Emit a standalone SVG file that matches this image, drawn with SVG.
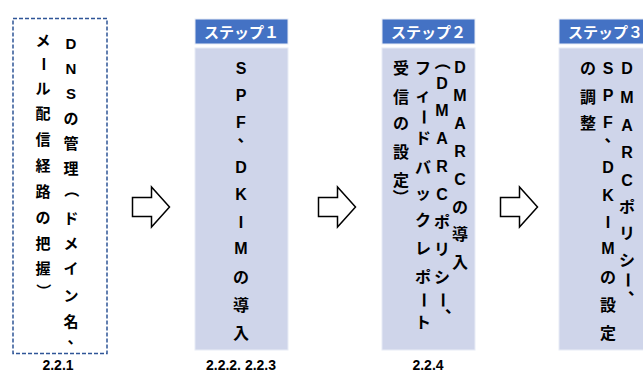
<svg xmlns="http://www.w3.org/2000/svg" width="643" height="372" viewBox="0 0 643 372">
  <style>
    .v { font-family: "Liberation Sans", "Noto Sans CJK JP", sans-serif; font-weight: bold; font-size: 16px; text-anchor: middle; dominant-baseline: central; fill: #000; }
    .s14 { font-size: 15px; }
    .head { fill: #4472C4; stroke: #E8ECF6; stroke-width: 1; }
    .body { fill: #CFD5EA; stroke: #E8ECF6; stroke-width: 1; }
    .htxt { font-family: "Noto Sans CJK JP", "Liberation Sans", sans-serif; font-weight: bold; font-size: 15px; text-anchor: middle; dominant-baseline: central; fill: #fff; }
    .lbl { font-family: "Liberation Sans", "Noto Sans CJK JP", sans-serif; font-weight: bold; font-size: 14px; text-anchor: middle; fill: #000; }
    .arrow { fill: #fff; stroke: #000; stroke-width: 1.5; stroke-linejoin: miter; }
  </style>
  <defs>
    <!-- outlined block arrow pointing right, origin at left end of the shaft centre line -->
    <path id="blockArrow" d="M0,-9.5 H19 V-20 L37,0 L19,20 V9.5 H0 Z"/>
  </defs>

  <!-- DNS management box (dashed) -->
  <g id="dns">
    <rect x="13" y="18.5" width="94" height="335" fill="#fff" stroke="#2F5597" stroke-width="1.5" stroke-dasharray="4 2"/>
    <text class="v s14" x="71 71 71 71 71 71" y="43 68 93 118 143 168">DNSの管理</text>
    <text class="v s14" transform="translate(71 190) rotate(90)">（</text>
    <text class="v s14" x="71 71 71 71 71" y="218 243 268 295 321">ドメイン名</text>
    <text class="v s14" x="75" y="337">、</text>
    <text class="v s14" x="43" y="40">メ</text>
    <text class="v s14" transform="translate(43 64) rotate(90)">ー</text>
    <text class="v s14" x="43 43 43 43 43 43 43 43" y="88 113 139 165 191 217 243 268">ル配信経路の把握</text>
    <text class="v s14" transform="translate(43 291) rotate(90)">）</text>
    <text class="lbl" x="58" y="370">2.2.1</text>
  </g>

  <!-- Step 1 -->
  <g id="step1">
    <rect class="head" x="195" y="19" width="93" height="25"/>
    <text class="htxt" x="241.5" y="31.5">ステップ１</text>
    <rect class="body" x="195" y="48" width="93" height="302"/>
    <text class="v" x="241 241 241" y="68 95 122">SPF</text>
    <text class="v" x="245.5" y="136">、</text>
    <text class="v" x="241 241 241 241 241 241 241" y="167 194 222 248 277 305 333">DKIMの導入</text>
    <text class="lbl" x="241" y="370">2.2.2. 2.2.3</text>
  </g>

  <!-- Step 2 -->
  <g id="step2">
    <rect class="head" x="382" y="19" width="93" height="25"/>
    <text class="htxt" x="428.5" y="31.5">ステップ２</text>
    <rect class="body" x="382" y="48" width="93" height="302"/>
    <text class="v" x="460 460 460 460 460 460 460 460" y="67 95 123 151 179 207 234 262">DMARCの導入</text>
    <text class="v" transform="translate(442 62) rotate(90)">（</text>
    <text class="v" x="442 442 442 442 442 442 442 442" y="83 110 138 166 194 222 249 277">DMARCポリシ</text>
    <text class="v" transform="translate(442 300) rotate(90)">ー</text>
    <text class="v" x="453" y="307">、</text>
    <text class="v" x="423 423" y="68 95">フィ</text>
    <text class="v" transform="translate(423 117) rotate(90)">ー</text>
    <text class="v" x="423 423 423 423 423 423" y="138 167 193 220 248 277">ドバックレポ</text>
    <text class="v" transform="translate(423 300) rotate(90)">ー</text>
    <text class="v" x="423" y="322">ト</text>
    <text class="v" x="401 401 401 401 401" y="68 97 123 152 180">受信の設定</text>
    <text class="v" transform="translate(400 197) rotate(90)">）</text>
    <text class="lbl" x="428" y="370">2.2.4</text>
  </g>

  <!-- Step 3 (runs past the right edge) -->
  <g id="step3">
    <rect class="head" x="559" y="19" width="93" height="25"/>
    <text class="htxt" x="605.5" y="31.5">ステップ３</text>
    <rect class="body" x="559" y="48" width="93" height="302"/>
    <text class="v" x="627 627 627 627 627 627 627 627" y="68 97 125 152 180 207 233 260">DMARCポリシ</text>
    <text class="v" transform="translate(627 280) rotate(90)">ー</text>
    <text class="v" x="636" y="289">、</text>
    <text class="v" x="608 608 608" y="68 95 122">SPF</text>
    <text class="v" x="612.5" y="136">、</text>
    <text class="v" x="608 608 608 608 608 608 608" y="167 195 222 248 277 305 333">DKIMの設定</text>
    <text class="v" x="588 588 588" y="68 97 123">の調整</text>
  </g>

  <!-- flow arrows between the stages -->
  <g id="connectors">
    <use href="#blockArrow" class="arrow" x="132.5" y="207"/>
    <use href="#blockArrow" class="arrow" x="318.5" y="207"/>
    <use href="#blockArrow" class="arrow" x="500.5" y="207"/>
  </g>
</svg>
